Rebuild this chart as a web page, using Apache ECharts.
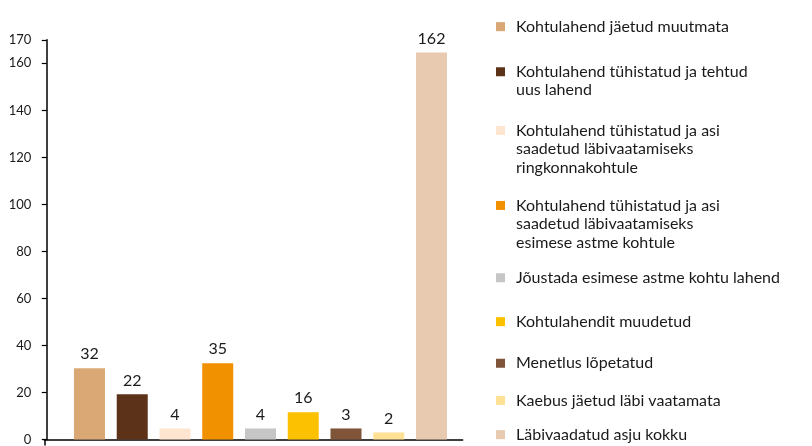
<!DOCTYPE html>
<html>
<head>
<meta charset="utf-8">
<script src="https://cdn.jsdelivr.net/npm/echarts@6/dist/echarts.min.js"></script>
<style>html,body{margin:0;padding:0;background:#fff}#c{width:812px;height:446px}</style>
</head>
<body>
<div id="c"></div>
<script>
// ---- data ----
const categories = [
  'Kohtulahend jäetud muutmata',
  'Kohtulahend tühistatud ja tehtud\nuus lahend',
  'Kohtulahend tühistatud ja asi\nsaadetud läbivaatamiseks\nringkonnakohtule',
  'Kohtulahend tühistatud ja asi\nsaadetud läbivaatamiseks\nesimese astme kohtule',
  'Jõustada esimese astme kohtu lahend',
  'Kohtulahendit muudetud',
  'Menetlus lõpetatud',
  'Kaebus jäetud läbi vaatamata',
  'Läbivaadatud asju kokku'
];
// bar heights as drawn in the picture
const barValues = [30.3, 19.2, 4.7, 32.4, 4.7, 11.6, 4.7, 3.0, 164.6];
// value labels printed above the bars
const valueLabels = ['32', '22', '4', '35', '4', '16', '3', '2', '162'];
const colors = ['#daa874', '#5c3318', '#fde5cf', '#f29100', '#c6c6c6', '#fcc100', '#7f5439', '#ffe196', '#e8cab0'];
const yTicks = { min: 0, max: 170, interval: 20 };

// ---- layout ----
const FONT = 'Lato';
const LH = 18.5;
const legendTops = [17.4, 62.5, 121.2, 196.2, 268.5, 312.4, 354, 391.2, 425.4];
const xMin = -0.057, xMax = 9.73;

const chart = echarts.init(document.getElementById('c'), null, { renderer: 'canvas' });

const series = categories.map((name, i) => ({
  name: name,
  type: 'bar',
  barWidth: 31,
  barGap: '-100%',
  itemStyle: { color: colors[i] },
  label: {
    show: true,
    position: 'top',
    distance: 6,
    formatter: () => valueLabels[i],
    fontFamily: FONT,
    fontSize: 16,
    color: '#1a1a1a'
  },
  data: [[i + 1, barValues[i]]]
}));

const legends = categories.map((name, i) => {
  const H = LH * name.split('\n').length;
  return {
    data: [{ name: name, icon: 'path://M0,0M15,' + H + 'M0,4.75h9v9h-9z' }],
    left: 496,
    top: legendTops[i],
    padding: 0,
    itemWidth: 15,
    itemHeight: H,
    itemGap: 0,
    selectedMode: false,
    textStyle: { fontFamily: FONT, fontSize: 16, lineHeight: LH, color: '#1a1a1a' }
  };
});

chart.setOption({
  animation: false,
  backgroundColor: '#fff',
  grid: { left: 44.3, right: 349.3, top: 39.8, bottom: 6, containLabel: false },
  legend: legends,
  xAxis: {
    type: 'value',
    min: xMin,
    max: xMax,
    axisLine: { show: true, onZero: false, lineStyle: { color: '#000', width: 1.5 } },
    axisTick: { show: true, customValues: [xMin], length: 6, lineStyle: { color: '#000', width: 1.5 } },
    axisLabel: { show: false },
    splitLine: { show: false }
  },
  yAxis: {
    type: 'value',
    min: yTicks.min,
    max: yTicks.max,
    interval: yTicks.interval,
    axisLine: { show: true, lineStyle: { color: '#000', width: 1.5 } },
    axisTick: { show: true, length: 5, lineStyle: { color: '#000', width: 1.2 } },
    axisLabel: { margin: 13, fontFamily: FONT, fontSize: 13, color: '#1a1a1a' },
    splitLine: { show: false }
  },
  series: series
});
</script>
</body>
</html>
